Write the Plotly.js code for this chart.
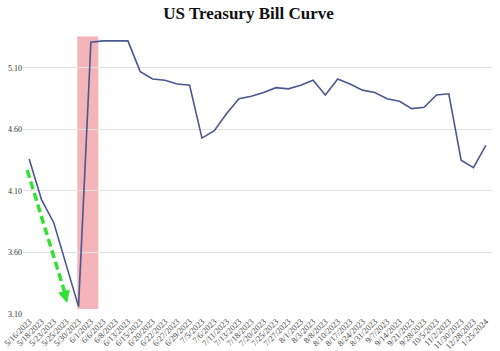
<!DOCTYPE html>
<html>
<head>
<meta charset="utf-8">
<script src="https://cdn.plot.ly/plotly-3.0.1.min.js"></script>
<style>html,body{margin:0;padding:0;background:#fff;}#chart{width:500px;height:351px;}</style>
</head>
<body>
<div id="chart"></div>
<script>
const dates = ["5/16/2023","5/18/2023","5/23/2023","5/25/2023","5/30/2023","6/1/2023","6/6/2023","6/8/2023","6/13/2023","6/15/2023","6/20/2023","6/22/2023","6/27/2023","6/29/2023","7/5/2023","7/6/2023","7/11/2023","7/13/2023","7/18/2023","7/20/2023","7/25/2023","7/27/2023","8/1/2023","8/3/2023","8/8/2023","8/10/2023","8/17/2023","8/24/2023","8/31/2023","9/7/2023","9/14/2023","9/21/2023","9/28/2023","10/5/2023","11/2/2023","11/30/2023","12/28/2023","1/25/2024"];
const yields = [4.36,4.03,3.84,3.50,3.16,5.31,5.32,5.32,5.32,5.07,5.01,5.00,4.97,4.96,4.53,4.59,4.73,4.85,4.87,4.90,4.94,4.93,4.96,5.00,4.88,5.01,4.97,4.92,4.90,4.85,4.83,4.77,4.78,4.88,4.89,4.35,4.29,4.47];
const yTicks = [3.10,3.60,4.10,4.60,5.10];
const yTickText = ["3.10","3.60","4.10","4.60","5.10"];

const trace = {
  x: dates, y: yields, type: 'scatter', mode: 'lines',
  line: {color: '#4a5890', width: 1.6},
  hoverinfo: 'x+y'
};

const layout = {
  width: 500, height: 351,
  margin: {l: 23, r: 8, t: 36, b: 37},
  paper_bgcolor: '#ffffff', plot_bgcolor: '#ffffff',
  showlegend: false,
  title: {text: '<b>US Treasury Bill Curve</b>', x: 0.497, xanchor: 'center', y: 0.962, yanchor: 'middle',
          font: {family: 'Liberation Serif, serif', size: 17, color: '#111'}},
  xaxis: {
    type: 'category', range: [-0.5, dates.length - 0.5],
    tickangle: -45, showgrid: false, zeroline: false, showline: false,
    ticks: '', tickfont: {family: 'Liberation Serif, serif', size: 8.5, color: '#444'},
    automargin: false
  },
  yaxis: {
    range: [3.10, 5.36], tickvals: yTicks, ticktext: yTickText,
    showgrid: true, gridcolor: '#e2e2e2', gridwidth: 1, zeroline: false, showline: false,
    ticks: '', tickfont: {family: 'Liberation Serif, serif', size: 8, color: '#333'},
    automargin: false
  },
  shapes: [
    {type: 'rect', xref: 'x', yref: 'y', x0: 3.9, x1: 5.6, y0: 3.14, y1: 5.355,
     fillcolor: '#f5b4b9', line: {width: 0}, layer: 'below'},
    {type: 'line', xref: 'x', yref: 'y', x0: -0.16, y0: 4.27, x1: 2.9, y1: 3.27,
     line: {color: '#33e033', width: 3.5, dash: '8px,4px'}}
  ],
  annotations: [
    {xref: 'x', yref: 'y', x: 3.08, y: 3.19, text: '', showarrow: true,
     arrowhead: 2, arrowsize: 0.7, arrowwidth: 3.5, arrowcolor: '#33e033',
     ax: -3, ay: -11, axref: 'pixel', ayref: 'pixel'}
  ]
};

Plotly.newPlot('chart', [trace], layout, {displayModeBar: false, staticPlot: true});
</script>
</body>
</html>
